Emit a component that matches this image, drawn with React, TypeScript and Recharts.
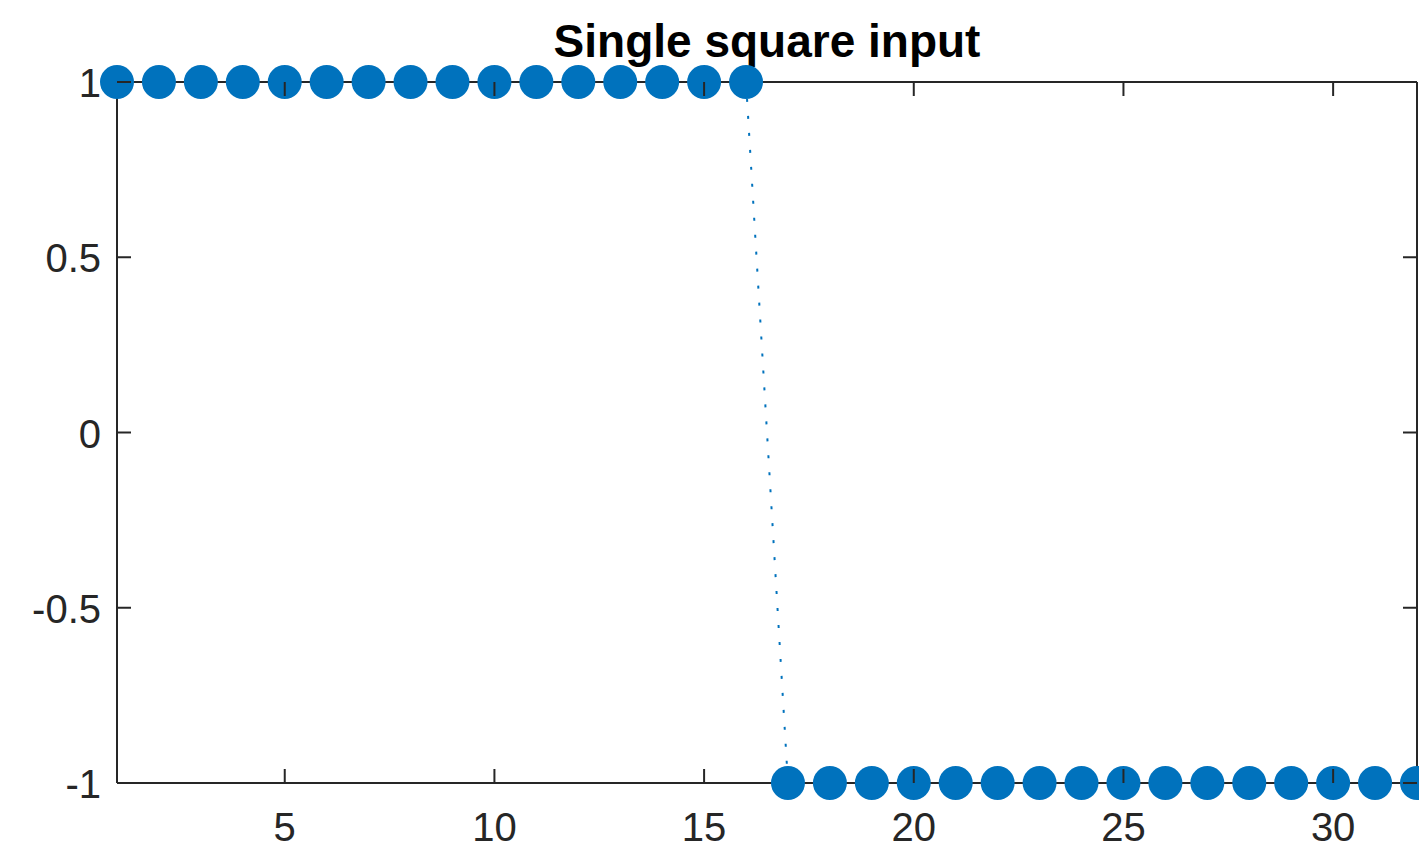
import React from 'react';
import { LineChart, Line, XAxis, YAxis } from 'recharts';

// Sample index and the square-wave input value at each sample
const samples: number[] = [
  1, 2, 3, 4, 5, 6, 7, 8, 9, 10, 11, 12, 13, 14, 15, 16,
  17, 18, 19, 20, 21, 22, 23, 24, 25, 26, 27, 28, 29, 30, 31, 32,
];
const inputValues: number[] = [
  1, 1, 1, 1, 1, 1, 1, 1, 1, 1, 1, 1, 1, 1, 1, 1,
  -1, -1, -1, -1, -1, -1, -1, -1, -1, -1, -1, -1, -1, -1, -1, -1,
];
const xTicks: number[] = [5, 10, 15, 20, 25, 30];
const yTicks: number[] = [-1, -0.5, 0, 0.5, 1];

const data = samples.map((n, i) => ({ n, v: inputValues[i] }));

const AXIS_COLOR = '#262626';
const SERIES_COLOR = '#0072BD';
const FONT = '"Liberation Sans", Arial, Helvetica, sans-serif';
const TICK_LEN = 14;
const AXIS_W = 2;

const W = 1419;
const H = 846;

// Inward tick + label for the bottom axis
const BottomTick = (props: any) => {
  const { x, y, payload } = props;
  return (
    <g>
      <line x1={x} y1={y} x2={x} y2={y - TICK_LEN} stroke={AXIS_COLOR} strokeWidth={AXIS_W} />
      <text x={x} y={y + 58} textAnchor="middle" fontFamily={FONT} fontSize={40} fill={AXIS_COLOR}>
        {String(payload.value)}
      </text>
    </g>
  );
};

// Inward tick only for the top axis
const TopTick = (props: any) => {
  const { x, y } = props;
  return <line x1={x} y1={y} x2={x} y2={y + TICK_LEN} stroke={AXIS_COLOR} strokeWidth={AXIS_W} />;
};

// Inward tick + label for the left axis
const LeftTick = (props: any) => {
  const { x, y, payload } = props;
  return (
    <g>
      <line x1={x} y1={y} x2={x + TICK_LEN} y2={y} stroke={AXIS_COLOR} strokeWidth={AXIS_W} />
      <text x={x - 16} y={y + 15} textAnchor="end" fontFamily={FONT} fontSize={40} fill={AXIS_COLOR}>
        {String(payload.value)}
      </text>
    </g>
  );
};

// Inward tick only for the right axis
const RightTick = (props: any) => {
  const { x, y } = props;
  return <line x1={x} y1={y} x2={x - TICK_LEN} y2={y} stroke={AXIS_COLOR} strokeWidth={AXIS_W} />;
};

const Marker = (props: any) => {
  const { cx, cy, index } = props;
  if (cx == null || cy == null) return null;
  return <circle key={`m-${index}`} cx={cx} cy={cy} r={17} fill={SERIES_COLOR} stroke="none" />;
};

export default function App() {
  return (
    <div style={{ position: 'absolute', left: 0, top: 0, width: W, height: H, background: '#fff' }}>
      <LineChart
        width={W}
        height={H}
        data={data}
        margin={{ top: 81, right: 1, bottom: 0, left: 0 }}
      >
        <XAxis
          xAxisId="bottom"
          dataKey="n"
          type="number"
          domain={[1, 32]}
          ticks={xTicks}
          height={63}
          tickSize={0}
          tickMargin={0}
          tickLine={false}
          axisLine={{ stroke: AXIS_COLOR, strokeWidth: AXIS_W }}
          tick={<BottomTick />}
          interval={0}
        />
        <XAxis
          xAxisId="top"
          orientation="top"
          dataKey="n"
          type="number"
          domain={[1, 32]}
          ticks={xTicks}
          height={1}
          tickSize={0}
          tickMargin={0}
          tickLine={false}
          axisLine={{ stroke: AXIS_COLOR, strokeWidth: AXIS_W }}
          tick={<TopTick />}
          interval={0}
        />
        <YAxis
          yAxisId="left"
          type="number"
          domain={[-1, 1]}
          ticks={yTicks}
          width={117}
          tickSize={0}
          tickMargin={0}
          tickLine={false}
          axisLine={{ stroke: AXIS_COLOR, strokeWidth: AXIS_W }}
          tick={<LeftTick />}
          interval={0}
        />
        <YAxis
          yAxisId="right"
          orientation="right"
          type="number"
          domain={[-1, 1]}
          ticks={yTicks}
          width={1}
          tickSize={0}
          tickMargin={0}
          tickLine={false}
          axisLine={{ stroke: AXIS_COLOR, strokeWidth: AXIS_W }}
          tick={<RightTick />}
          interval={0}
        />
        <Line
          xAxisId="bottom"
          yAxisId="left"
          type="linear"
          dataKey="v"
          stroke={SERIES_COLOR}
          strokeWidth={2}
          strokeDasharray="3 14"
          dot={<Marker />}
          activeDot={false}
          isAnimationActive={false}
        />
        <Line
          xAxisId="top"
          yAxisId="right"
          type="linear"
          dataKey="v"
          stroke="none"
          strokeOpacity={0}
          dot={false}
          activeDot={false}
          legendType="none"
          isAnimationActive={false}
        />
        <text
          x={767}
          y={57}
          textAnchor="middle"
          fontFamily={FONT}
          fontSize={46}
          fontWeight="bold"
          fill="#000"
        >
          Single square input
        </text>
      </LineChart>
    </div>
  );
}
